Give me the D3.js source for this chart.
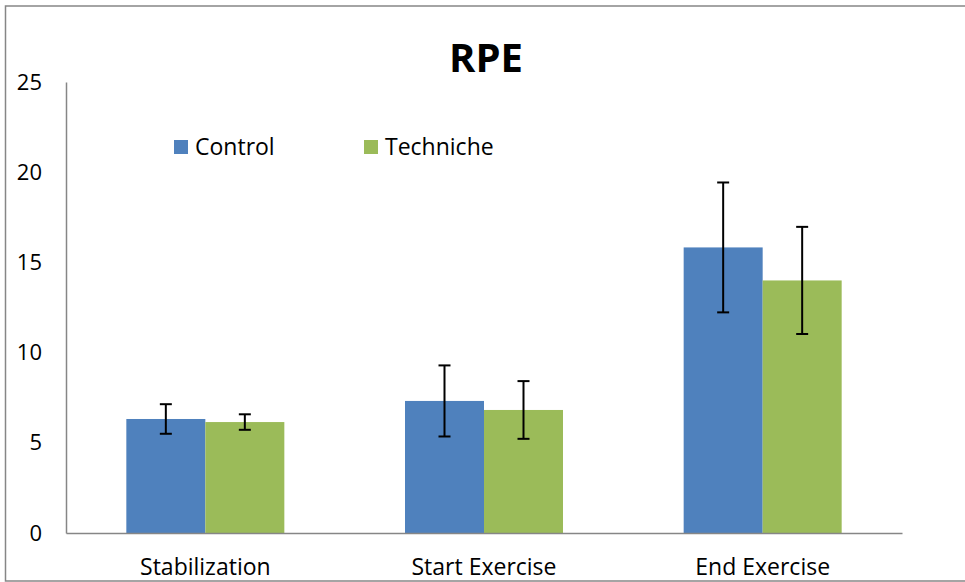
<!DOCTYPE html>
<html>
<head>
<meta charset="utf-8">
<script src="https://cdn.jsdelivr.net/npm/d3@7"></script>
<style>
  body { margin: 0; background: #fff; }
  svg { display: block; font-family: "Open Sans", "Liberation Sans", sans-serif; }
</style>
</head>
<body>
<svg id="chart" width="965" height="582"></svg>
<script>
// chart data
var categories = ["Stabilization", "Start Exercise", "End Exercise"];
var seriesNames = ["Control", "Techniche"];
var controlValues = [6.32, 7.32, 15.83];
var techValues = [6.15, 6.82, 14.0];
var controlErrors = [0.82, 1.97, 3.6];
var techErrors = [0.43, 1.6, 2.97];
var yTicks = [0, 5, 10, 15, 20, 25];

var colors = { Control: "#4f81bd", Techniche: "#9bbb59" };

var svg = d3.select("#chart"),
    margin = { top: 82, right: 63, bottom: 49, left: 66 },
    width = +svg.attr("width") - margin.left - margin.right,
    height = +svg.attr("height") - margin.top - margin.bottom;

// outer frame
svg.append("rect")
    .attr("x", 5.5).attr("y", 6)
    .attr("width", 962).attr("height", 575)
    .attr("fill", "none")
    .attr("stroke", "#868686")
    .attr("stroke-width", 1.5);

var data = categories.map(function (c, i) {
    return {
        name: c,
        values: [
            { key: "Control", value: controlValues[i], err: controlErrors[i] },
            { key: "Techniche", value: techValues[i], err: techErrors[i] }
        ]
    };
});

var x0 = d3.scaleBand().domain(categories).range([0, width]).paddingInner(0).paddingOuter(0);
var x1 = d3.scaleBand().domain(seriesNames).range([x0.bandwidth() * 0.2165, x0.bandwidth() * 0.7835]);
var y = d3.scaleLinear().domain([0, 25]).range([height, 0]);

var g = svg.append("g")
    .attr("transform", "translate(" + margin.left + "," + margin.top + ")");

// bars
var groups = g.selectAll(".cat")
    .data(data)
    .enter().append("g")
    .attr("class", "cat")
    .attr("transform", function (d) { return "translate(" + x0(d.name) + ",0)"; });

groups.selectAll("rect")
    .data(function (d) { return d.values; })
    .enter().append("rect")
    .attr("x", function (d) { return x1(d.key); })
    .attr("y", function (d) { return y(d.value); })
    .attr("width", x1.bandwidth())
    .attr("height", function (d) { return height - y(d.value); })
    .attr("fill", function (d) { return colors[d.key]; });

// error bars
var eb = groups.selectAll(".err")
    .data(function (d) { return d.values; })
    .enter().append("g")
    .attr("class", "err")
    .attr("stroke", "#000")
    .attr("stroke-width", 2);

eb.append("line")
    .attr("x1", function (d) { return x1(d.key) + x1.bandwidth() / 2; })
    .attr("x2", function (d) { return x1(d.key) + x1.bandwidth() / 2; })
    .attr("y1", function (d) { return y(d.value + d.err); })
    .attr("y2", function (d) { return y(d.value - d.err); });

[1, -1].forEach(function (s) {
    eb.append("line")
        .attr("x1", function (d) { return x1(d.key) + x1.bandwidth() / 2 - 6; })
        .attr("x2", function (d) { return x1(d.key) + x1.bandwidth() / 2 + 6; })
        .attr("y1", function (d) { return y(d.value + s * d.err); })
        .attr("y2", function (d) { return y(d.value + s * d.err); });
});

// axes
var yAxis = g.append("g")
    .call(d3.axisLeft(y).tickValues(yTicks).tickSize(0).tickPadding(24));
yAxis.select(".domain").attr("stroke", "#868686").attr("stroke-width", 1.5);
yAxis.selectAll("text").attr("font-size", 22).attr("fill", "#000")
    .attr("font-family", "Open Sans, sans-serif");

var xAxis = g.append("g")
    .attr("transform", "translate(0," + height + ")")
    .call(d3.axisBottom(x0).tickSize(0).tickPadding(26));
xAxis.select(".domain").attr("stroke", "#868686").attr("stroke-width", 1.5);
xAxis.selectAll("text").attr("font-size", 23).attr("fill", "#000")
    .attr("font-family", "Open Sans, sans-serif");

// title
svg.append("text")
    .attr("x", 486).attr("y", 72)
    .attr("text-anchor", "middle")
    .attr("font-size", 40)
    .attr("font-weight", "bold")
    .text("RPE");

// legend
var legendX = [174, 364];
var legend = svg.selectAll(".legend")
    .data(seriesNames)
    .enter().append("g")
    .attr("class", "legend")
    .attr("transform", function (d, i) { return "translate(" + legendX[i] + ",140)"; });

legend.append("rect")
    .attr("width", 14).attr("height", 14)
    .attr("fill", function (d) { return colors[d]; });

legend.append("text")
    .attr("x", 21).attr("y", 15)
    .attr("font-size", 23)
    .text(function (d) { return d; });
</script>
</body>
</html>
